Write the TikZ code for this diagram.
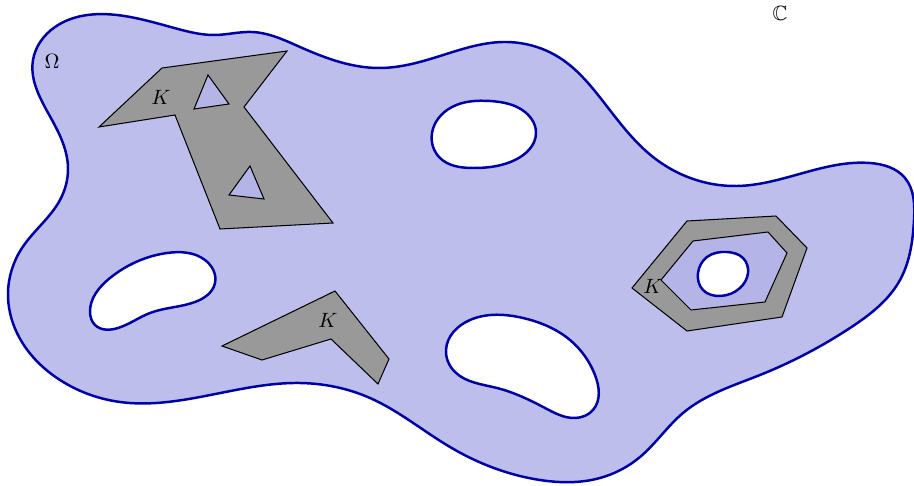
\documentclass[tikz,border=0pt]{standalone}
\usepackage{amssymb}
\usetikzlibrary{hobby}
\definecolor{omegafill}{RGB}{190,190,236}
\definecolor{innerfill}{RGB}{180,180,230}
\definecolor{bordercol}{RGB}{0,0,170}
\definecolor{kgray}{RGB}{153,153,153}
\begin{document}
\begin{tikzpicture}[x=0.017cm,y=-0.017cm,
  boundary/.style={draw=bordercol,line width=1.2pt},
  holefill/.style={boundary,fill=white},
  kset/.style={draw=black,line width=0.5pt,fill=kgray,line join=miter},
  kinner/.style={draw=black,line width=0.5pt,fill=innerfill},
  lbl/.style={inner sep=0pt}]
\useasboundingbox (0,0) rectangle (914,486);
% Omega
\draw[boundary,fill=omegafill,use Hobby shortcut,closed=true]
 (33,60) .. (55,27) .. (117,15) .. (178,29) .. (215,35) .. (252,32) .. (300,47) .. (380,68) .. (440,56)
 .. (503,42) .. (560,58) .. (602,100) .. (653,157) .. (737,186) .. (870,163) .. (905,178)
 .. (914,220) .. (900,280) .. (850,328) .. (760,375) .. (683,413) .. (640,457) .. (600,478) .. (540,480)
 .. (450,447) .. (370,398) .. (300,383) .. (200,397) .. (120,402) .. (60,380) .. (17,333) .. (8,293)
 .. (22,248) .. (60,200) .. (68,168) .. (52,120);
% holes
\draw[holefill,use Hobby shortcut,closed=true]
 (432,133) .. (452,107) .. (490,101) .. (525,112) .. (536,133) .. (515,160) .. (473,168) .. (440,158);
\draw[holefill,use Hobby shortcut,closed=true]
 (90,312) .. (110,278) .. (167,253) .. (205,260) .. (215,283) .. (195,302) .. (150,313) .. (118,328) .. (95,325);
\draw[holefill,use Hobby shortcut,closed=true]
 (446,350) .. (470,320) .. (523,318) .. (570,340) .. (595,375) .. (593,410) .. (575,418) .. (545,408) .. (497,388) .. (455,372);
% K sets
\draw[kset] (162,68) -- (287,51) -- (244,107) -- (333,223) -- (220,229) -- (175,115) -- (99,127) -- cycle;
\draw[kinner] (208,75) -- (229,104) -- (194,109) -- cycle;
\draw[kinner] (250,166) -- (264,199) -- (229,195) -- cycle;
\draw[kset] (335,291) -- (389,359) -- (378,384) -- (331,339) -- (262,360) -- (222,346) -- cycle;
\draw[kset] (687,221) -- (776,216) -- (807,248) -- (782,317) -- (687,331) -- (632,288) -- cycle;
\draw[kinner] (693,241) -- (768,232) -- (787,253) -- (765,302) -- (691,310) -- (661,280) -- cycle;
\draw[holefill,use Hobby shortcut,closed=true]
 (698,273) .. (707,257) .. (727,252) .. (743,258) .. (748,273) .. (740,288) .. (720,296) .. (703,290);
% labels
\node[lbl] (omega) at (52,61) {$\Omega$};
\node[lbl] (cplx) at (780,13) {$\mathbb{C}$};
\node[lbl] (k1) at (161,97) {$K$};
\node[lbl] (k2) at (328,320) {$K$};
\node[lbl] (k3) at (653,286) {$K$};
\end{tikzpicture}
\end{document}
